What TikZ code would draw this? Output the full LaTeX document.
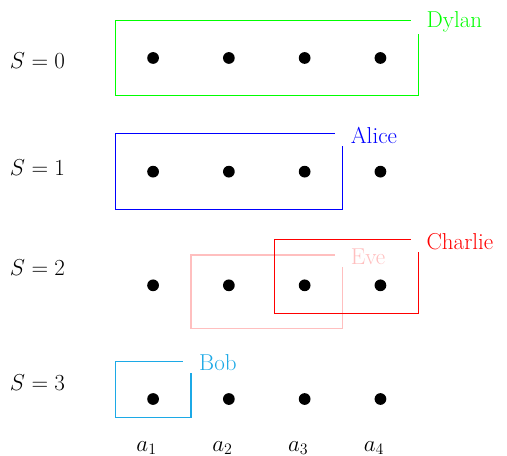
\documentclass[tikz,border=0pt]{standalone}
\usepackage{xcolor}
\definecolor{dylangreen}{HTML}{00FF00}
\definecolor{aliceblue}{HTML}{0000FF}
\definecolor{charliered}{HTML}{FF0000}
\definecolor{evepink}{HTML}{FFBFBF}
\definecolor{bobsky}{HTML}{1CA9E6}
\usepackage{tikz}
\usetikzlibrary{positioning}

\tikzset{
  dot/.style={circle, fill=black, inner sep=0pt, minimum size=0.31cm},
  tag/.style={fill=white, anchor=west, inner xsep=12pt, inner ysep=2pt, xshift=-6pt, yshift=-1pt, font=\LARGE},
  setbox/.style={thick}
}

\begin{document}
\begin{tikzpicture}
  \useasboundingbox (-4.04, 1.53) rectangle (9.34, -10.5);

  % --- row labels ---
  \node (s0) at (-3.05, -0.08) {\LARGE $S=0$};
  \node (s1) at (-3.05, -2.9)  {\LARGE $S=1$};
  \node (s2) at (-3.05, -5.54) {\LARGE $S=2$};
  \node (s3) at (-3.05, -8.57) {\LARGE $S=3$};

  % --- Dylan (S = 0) ---
  \draw[setbox, dylangreen] (-1, 1) rectangle (7, -1);
  \node[dot] (d01) at (0, 0) {};
  \node[dot] (d02) at (2, 0) {};
  \node[dot] (d03) at (4, 0) {};
  \node[dot] (d04) at (6, 0) {};
  \node[tag, text=dylangreen] (dylan) at (7, 1) {Dylan};

  % --- Alice (S = 1) ---
  \draw[setbox, aliceblue] (-1, -2) rectangle (5, -4);
  \node[dot] (d11) at (0, -3) {};
  \node[dot] (d12) at (2, -3) {};
  \node[dot] (d13) at (4, -3) {};
  \node[dot] (d14) at (6, -3) {};
  \node[tag, text=aliceblue] (alice) at (5, -2) {Alice};

  % --- Eve and Charlie (S = 2) ---
  \draw[setbox, evepink] (1, -5.2) rectangle (5, -7.15);
  \node[tag, text=evepink] (eve) at (5, -5.2) {Eve};
  \draw[setbox, charliered] (3.2, -4.8) rectangle (7, -6.75);
  \node[tag, text=charliered] (charlie) at (7, -4.8) {Charlie};
  \node[dot] (d21) at (0, -6) {};
  \node[dot] (d22) at (2, -6) {};
  \node[dot] (d23) at (4, -6) {};
  \node[dot] (d24) at (6, -6) {};

  % --- Bob (S = 3) ---
  \draw[setbox, bobsky] (-1, -8) rectangle (1, -9.5);
  \node[dot] (d31) at (0, -9) {};
  \node[dot] (d32) at (2, -9) {};
  \node[dot] (d33) at (4, -9) {};
  \node[dot] (d34) at (6, -9) {};
  \node[tag, text=bobsky] (bob) at (1, -8) {Bob};

  % --- column labels ---
  \node (a1) at (-0.17, -10.3) {\LARGE $a_1$};
  \node (a2) at (1.83, -10.3)  {\LARGE $a_2$};
  \node (a3) at (3.83, -10.3)  {\LARGE $a_3$};
  \node (a4) at (5.83, -10.3)  {\LARGE $a_4$};
\end{tikzpicture}
\end{document}
